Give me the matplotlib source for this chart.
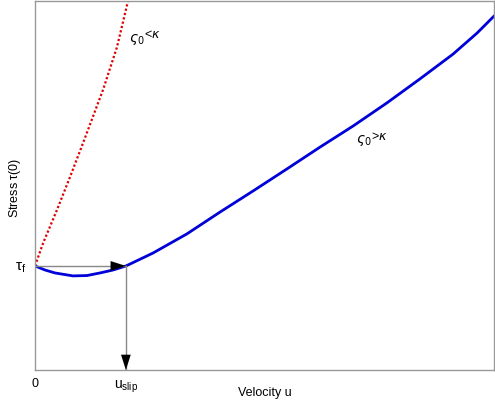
import numpy as np
import matplotlib.pyplot as plt

plt.rcParams['font.family'] = ['Liberation Sans', 'DejaVu Sans']

# values (normalised axes 0..1)
tau_f = 0.282
u_slip = 0.198

u_blue = [0.0, 0.0218, 0.0436, 0.0828, 0.1133, 0.1416, 0.170, 0.1983, 0.2571, 0.3312, 0.4031,
          0.4749, 0.5490, 0.6209, 0.6928, 0.7669, 0.8388, 0.9107, 0.9630, 1.0]
s_blue = [0.282, 0.271, 0.263, 0.255, 0.256, 0.263, 0.271, 0.282, 0.317, 0.369, 0.428,
          0.485, 0.545, 0.604, 0.661, 0.724, 0.789, 0.856, 0.913, 0.959]

u_red = [0.0, 0.0174, 0.0479, 0.0763, 0.1046, 0.1481, 0.1786, 0.2026]
s_red = [0.282, 0.343, 0.434, 0.523, 0.615, 0.759, 0.875, 1.0]

fig = plt.figure(figsize=(4.95, 4.05), dpi=100)
ax = fig.add_axes([35 / 495, 35 / 405, 459 / 495, 369 / 405])

ax.plot(u_red, s_red, color='#e00000', linestyle=(0, (1, 1)), linewidth=1.6)
ax.plot(u_blue, s_blue, color='#0000d8', linewidth=2)

# guide lines with arrowheads
ax.plot([0, u_slip], [tau_f, tau_f], color='#888888', linewidth=1)
ax.plot([u_slip, u_slip], [tau_f, 0], color='#888888', linewidth=1)
head = '-|>,head_length=1.1,head_width=0.35'
ax.annotate('', xy=(u_slip, tau_f), xytext=(u_slip - 0.03, tau_f),
            arrowprops=dict(arrowstyle=head, color='black', lw=0.01,
                            mutation_scale=10, shrinkA=0, shrinkB=0))
ax.annotate('', xy=(u_slip, 0), xytext=(u_slip, 0.04),
            arrowprops=dict(arrowstyle=head, color='black', lw=0.01,
                            mutation_scale=10, shrinkA=0, shrinkB=0))

ax.text(0.205, 0.889, r'$\varsigma_0$', fontsize=10)
ax.text(0.237, 0.899, r'<$\kappa$', fontsize=9)
ax.text(0.70, 0.614, r'$\varsigma_0$', fontsize=10)
ax.text(0.732, 0.624, r'>$\kappa$', fontsize=9)

ax.set_xlim(0, 1)
ax.set_ylim(0, 1)
ax.set_xticks([0, u_slip])
ax.set_xticklabels(['0', r'$\mathregular{u_{slip}}$'], fontsize=9)
ax.set_yticks([tau_f])
ax.set_yticklabels([r'$\mathregular{\tau_f}$'], fontsize=11)
ax.tick_params(length=0, pad=6)
ax.get_xticklabels()[1].set_fontsize(10)

fig.text(265 / 495, 1 - 393 / 405, 'Velocity u', fontsize=9, ha='center', va='center')
fig.text(15 / 495, 1 - 188 / 405, r'Stress $\mathregular{\tau}$(0)', fontsize=9,
         ha='center', va='center', rotation=90)

for sp in ax.spines.values():
    sp.set_color('#999999')
    sp.set_linewidth(1)

fig.savefig('out.png', dpi=100)
